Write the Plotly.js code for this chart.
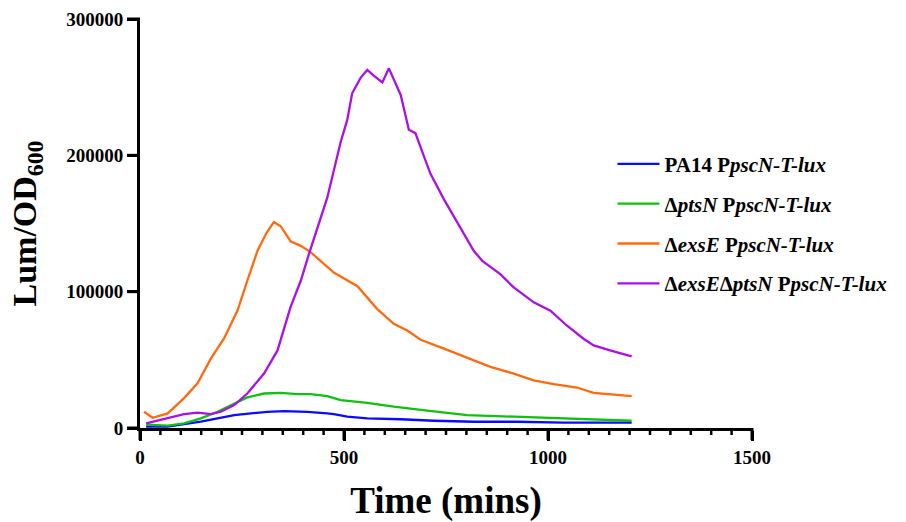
<!DOCTYPE html>
<html>
<head>
<meta charset="utf-8">
<script src="https://cdn.plot.ly/plotly-3.0.1.min.js"></script>
<style>html,body{margin:0;padding:0;background:#fff;}#chart{width:906px;height:522px;}</style>
</head>
<body>
<div id="chart"></div>
<script>
// Series names (legend labels)
const seriesNames = [
  "PA14 P<i>pscN-T-lux</i>",
  "Δ<i>ptsN</i> P<i>pscN-T-lux</i>",
  "Δ<i>exsE</i> P<i>pscN-T-lux</i>",
  "Δ<i>exsE</i>Δ<i>ptsN</i> P<i>pscN-T-lux</i>"
];

// PA14 PpscN-T-lux
const pa14Time = [15,68,108,149,190,231,272,312,353,410,459,475,508,557,639,720,818,924,1038,1205];
const pa14Lum  = [1000,1000,2900,4600,7100,9500,10700,11900,12400,11900,10700,10200,8300,7100,6400,5300,4600,4600,3900,3900];

// ΔptsN PpscN-T-lux
const ptsNTime = [15,68,108,149,190,231,263,304,345,386,418,459,492,557,622,704,802,916,1030,1128,1205];
const ptsNLum  = [2500,1800,3400,7100,11900,18000,22400,25300,25800,24800,24800,23400,20400,18500,15600,12700,9500,8300,7100,6400,5300];

// ΔexsE PpscN-T-lux
const exsETime = [10,31,68,108,141,174,206,239,263,288,310,328,345,369,394,418,475,533,581,622,655,688,745,802,859,916,965,1014,1071,1112,1160,1205];
const exsELum  = [11900,7500,10700,21900,32800,51100,65700,86100,108000,130000,143000,151000,148000,137000,133600,129000,114000,104000,87400,76400,71500,64700,58200,51600,44800,39900,35000,32100,29700,25800,24800,23400];

// ΔexsEΔptsN PpscN-T-lux
const dblTime = [15,68,108,141,174,198,231,263,304,337,369,394,414,459,492,508,520,541,557,573,594,610,630,639,659,675,696,712,745,818,839,883,916,965,1006,1046,1087,1112,1152,1205];
const dblLum  = [3400,7100,10200,11200,10200,11900,16800,25300,39900,56900,88600,108000,127500,168900,210000,226000,245500,257000,262600,258400,253500,263800,250400,244300,218800,216300,199300,186400,167700,130000,122600,112900,103100,92200,86100,75200,65500,60600,56900,52600];

// Axis ticks
const xRange = [0, 1500];
const yRange = [0, 300000];
const xTickStep = 500;
const xMinorStep = 50;
const yTickStep = 100000;

const colors = ["#0a0aff","#10c010","#ff6a10","#aa10e8"];
const serif = "Liberation Serif, Times New Roman, serif";

const xs = [pa14Time, ptsNTime, exsETime, dblTime];
const ys = [pa14Lum, ptsNLum, exsELum, dblLum];
const traces = xs.map((x,i)=>({
  x: x, y: ys[i], type: "scatter", mode: "lines",
  name: seriesNames[i], legendgroup: "g"+i,
  line: {color: colors[i], width: 2.3}
}));

// Tick marks drawn as paper-referenced shapes (positions derived from axis ranges)
const W = 906, H = 522, M = {l: 139.5, r: 154, t: 19, b: 94};
const plotW = W - M.l - M.r, plotH = H - M.t - M.b;
const shapes = [];
for (let v = xRange[0]; v <= xRange[1]; v += xMinorStep) {
  const major = (v % xTickStep) === 0;
  const px = (v - xRange[0]) / (xRange[1] - xRange[0]);
  shapes.push({type: "line", xref: "paper", yref: "paper", layer: "above",
    x0: px, x1: px, y0: 0, y1: -(major ? 12 : 7) / plotH,
    line: {color: "#000", width: major ? 3 : 2.5}});
}
for (let v = yRange[0]; v <= yRange[1]; v += yTickStep) {
  const py = (v - yRange[0]) / (yRange[1] - yRange[0]);
  shapes.push({type: "line", xref: "paper", yref: "paper", layer: "above",
    y0: py, y1: py, x0: 0, x1: -13 / plotW,
    line: {color: "#000", width: 3}});
}

const layout = {
  width: W, height: H,
  margin: {l: M.l, r: M.r, t: M.t, b: M.b, pad: 0},
  paper_bgcolor: "#fff", plot_bgcolor: "#fff",
  showlegend: true,
  shapes: shapes,
  legend: {
    x: 0.772, xanchor: "left", y: 0.695, yanchor: "top",
    font: {family: serif, size: 21, color: "#000", weight: 700},
    itemwidth: 42, tracegroupgap: 9.5, bgcolor: "rgba(0,0,0,0)",
    traceorder: "grouped"
  },
  xaxis: {
    range: xRange, dtick: xTickStep,
    showgrid: false, zeroline: false, showline: true, linecolor: "black", linewidth: 3,
    ticks: "outside", ticklen: 10, tickwidth: 3, tickcolor: "black",
    tickfont: {family: serif, size: 19, color: "#000", weight: 700},
    title: {text: "Time (mins)", font: {family: serif, size: 37, color: "#000", weight: 700}, standoff: 22}
  },
  yaxis: {
    range: yRange, dtick: yTickStep, tickformat: "d",
    showgrid: false, zeroline: false, showline: true, linecolor: "black", linewidth: 3,
    ticks: "outside", ticklen: 10, tickwidth: 3, tickcolor: "black",
    tickfont: {family: serif, size: 19, color: "#000", weight: 700},
    title: {text: "Lum/OD<sub>600</sub>", font: {family: serif, size: 34, color: "#000", weight: 700}, standoff: 20}
  }
};

Plotly.newPlot("chart", traces, layout, {displayModeBar: false});
</script>
</body>
</html>
